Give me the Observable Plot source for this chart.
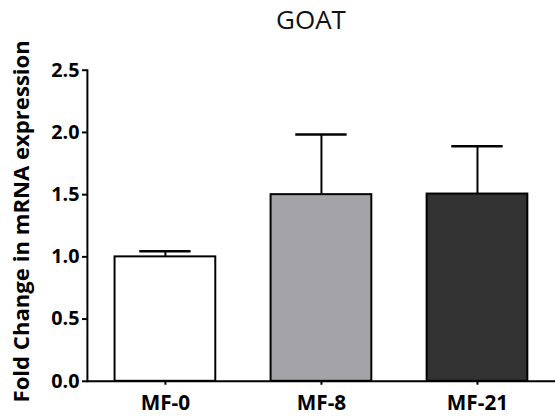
<!DOCTYPE html>
<html>
<head>
<meta charset="utf-8">
<script src="https://cdn.jsdelivr.net/npm/d3@7"></script>
<script src="https://cdn.jsdelivr.net/npm/@observablehq/plot@0.6"></script>
<style>
  html, body { margin: 0; padding: 0; background: white; }
  #wrap { width: 555px; height: 419px; overflow: hidden; position: relative; background: white; }
  #title { height: 48px; position: relative; }
  #title span { position: absolute; left: 0; width: 622px; text-align: center; top: 1px;
    font-family: "Open Sans", sans-serif; font-size: 26px; font-weight: normal; color: #111; }
  #chart svg { display: block; overflow: visible; }
</style>
</head>
<body>
<div id="wrap">
  <div id="title"><span>GOAT</span></div>
  <div id="chart"></div>
</div>
<script>
const categories = ["MF-0", "MF-8", "MF-21"];
const means = [1.0, 1.5, 1.505];
const errors = [0.045, 0.484, 0.384];
const fills = ["#ffffff", "#a4a3a8", "#323232"];
const yTicks = [0, 0.5, 1.0, 1.5, 2.0, 2.5];
const yLabel = "Fold Change in mRNA expression";

const data = categories.map((c, i) => ({cat: c, mean: means[i], err: errors[i], fill: fills[i]}));

const chart = Plot.plot({
  width: 562,
  height: 371,
  marginTop: 22,
  marginBottom: 34,
  marginLeft: 88,
  marginRight: 0,
  style: {fontFamily: "'Open Sans', sans-serif", fontSize: "20px", fontWeight: "bold", color: "black", background: "white", overflow: "visible"},
  x: {domain: categories, padding: 0, label: null},
  y: {domain: [0, 2.5], label: null},
  color: {type: "identity"},
  marks: [
    Plot.barY(data, {x: "cat", y: "mean", fill: "fill", stroke: "black", strokeWidth: 2, insetLeft: 28, insetRight: 28}),
    Plot.ruleX(data, {x: "cat", y1: "mean", y2: d => d.mean + d.err, stroke: "black", strokeWidth: 2}),
    Plot.tickY(data, {x: "cat", y: d => d.mean + d.err, insetLeft: 53, insetRight: 53, stroke: "black", strokeWidth: 2.5}),
    Plot.ruleY([0], {stroke: "black", strokeWidth: 2}),
    Plot.frame({anchor: "left", stroke: "black", strokeWidth: 2}),
    Plot.axisY({ticks: yTicks, tickFormat: d3.format(".1f"), tickSize: 5, tickPadding: 3, strokeWidth: 2, label: null, fontSize: 20}),
    Plot.text([yLabel], {frameAnchor: "left", rotate: -90, textAnchor: "middle", lineAnchor: "middle", dx: -66, dy: -4.5, fontSize: 22.4, fontWeight: "bold", fill: "black"}),
    Plot.axisX({tickSize: 4, tickPadding: 10, strokeWidth: 2, label: null, fontSize: 21})
  ]
});
document.getElementById("chart").appendChild(chart);
</script>
</body>
</html>
